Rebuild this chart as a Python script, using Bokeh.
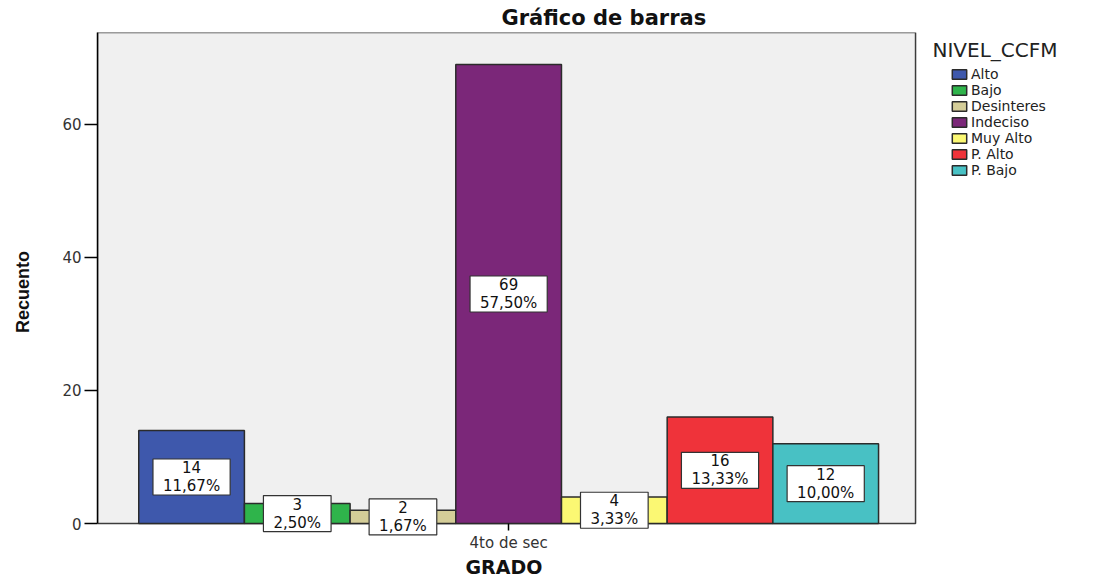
from bokeh.plotting import figure
from bokeh.models import Range1d, FixedTicker, Legend, LegendItem, Label, Title, ColumnDataSource
from bokeh.core.properties import value
from bokeh.embed import file_html
from bokeh.resources import INLINE

categories = ["Alto", "Bajo", "Desinteres", "Indeciso", "Muy Alto", "P. Alto", "P. Bajo"]
counts = [14, 3, 2, 69, 4, 16, 12]
percents = ["11,67%", "2,50%", "1,67%", "57,50%", "3,33%", "13,33%", "10,00%"]
colors = ["#3e58ac", "#2fb44b", "#d4cd98", "#7b2779", "#fbf873", "#ef333a", "#48c1c4"]
group_label = "4to de sec"
y_ticks = [0, 20, 40, 60]

n = len(categories)
# plot-area extents (data units)
x_start, x_plot_end, x_frame_end = -0.39, n + 0.35, 9.10
y_bottom, y_top = -4.2, 73.8

xs = [i + 0.5 for i in range(n)]
src = ColumnDataSource(dict(
    x=xs,
    count=counts,
    mid=[c / 2 for c in counts],
    label=[f"{c}\n{pc}" for c, pc in zip(counts, percents)],
    color=colors,
    cat=categories,
))

p = figure(width=1100, height=580,
           x_range=Range1d(x_start, x_frame_end), y_range=Range1d(y_bottom, y_top),
           output_backend="svg", toolbar_location=None,
           min_border_left=97, min_border_right=0, min_border_top=32, min_border_bottom=28)

p.background_fill_color = "white"
p.border_fill_color = "white"
p.outline_line_color = None
p.xgrid.visible = False
p.ygrid.visible = False

# grey plot area
p.quad(left=[x_start], right=[x_plot_end], bottom=[0], top=[y_top],
       fill_color="#f0f0f0", line_color="#3c3c3c", line_width=1.5)

bars = p.vbar(x="x", top="count", bottom=0, width=1.0, fill_color="color",
              line_color="#2b2b2b", line_width=1.5, source=src)

p.text(x="x", y="mid", text="label", text_align="center", text_baseline="middle",
       text_font=value("DejaVu Sans"), text_font_size="15px", text_color="#111111",
       text_line_height=1.0, background_fill_color="white",
       border_line_color="#333333", border_line_width=1.2,
       padding=dict(left=10, right=10, top=0, bottom=0), source=src)

# title
p.title.text = "Gráfico de barras"
p.title.align = "left"
p.title.offset = 404
p.title.standoff = 5
p.title.text_font = "DejaVu Sans"
p.title.text_font_style = "bold"
p.title.text_font_size = "21px"
p.title.text_color = "#111111"

# y axis
p.yaxis.ticker = FixedTicker(ticks=y_ticks)
p.yaxis.bounds = (0, y_top)
p.yaxis.axis_label = "Recuento"
p.yaxis.axis_label_text_font = "Liberation Sans"
p.yaxis.axis_label_text_font_style = "bold"
p.yaxis.axis_label_text_font_size = "18px"
p.yaxis.axis_label_text_color = "#111111"
p.yaxis.axis_label_standoff = 26
p.yaxis.major_label_standoff = 3
p.yaxis.major_tick_out = 13
p.yaxis.major_tick_in = 0
p.yaxis.minor_tick_out = 0
p.yaxis.minor_tick_in = 0
p.yaxis.axis_line_width = 1.5
p.yaxis.major_tick_line_width = 1.5
p.yaxis.major_label_text_font = "DejaVu Sans"
p.yaxis.major_label_text_font_size = "15px"
p.yaxis.major_label_text_color = "#333333"

# x axis, drawn at y = 0
p.xaxis.fixed_location = 0
p.xaxis.ticker = FixedTicker(ticks=[n / 2])
p.xaxis.major_label_overrides = {n / 2: group_label}
p.xaxis.axis_line_color = None
p.xaxis.major_label_standoff = 3
p.xaxis.major_tick_out = 7
p.xaxis.major_tick_in = 0
p.xaxis.minor_tick_out = 0
p.xaxis.minor_tick_in = 0
p.xaxis.major_tick_line_width = 1.5
p.xaxis.major_label_text_font = "DejaVu Sans"
p.xaxis.major_label_text_font_size = "15px"
p.xaxis.major_label_text_color = "#333333"

p.add_layout(Title(text="GRADO", align="left", offset=368, standoff=5,
                   text_font="DejaVu Sans", text_font_style="bold",
                   text_font_size="19px", text_color="#111111"), "below")

# legend
items = [LegendItem(label=c, renderers=[bars], index=i) for i, c in enumerate(categories)]
legend = Legend(items=items, location=(851, 371), margin=0, padding=2, spacing=0,
                label_height=16, glyph_width=18, glyph_height=12, label_standoff=3,
                label_text_font="DejaVu Sans", label_text_font_size="14px",
                label_text_color="#222222",
                border_line_alpha=0, background_fill_alpha=0)
p.add_layout(legend)

p.add_layout(Label(x=835, y=502, x_units="screen", y_units="screen", text="NIVEL_CCFM",
                   text_baseline="middle", text_font="DejaVu Sans", text_font_size="20px",
                   text_color="#222222"))

open("out.html", "w").write(file_html(p, INLINE))
